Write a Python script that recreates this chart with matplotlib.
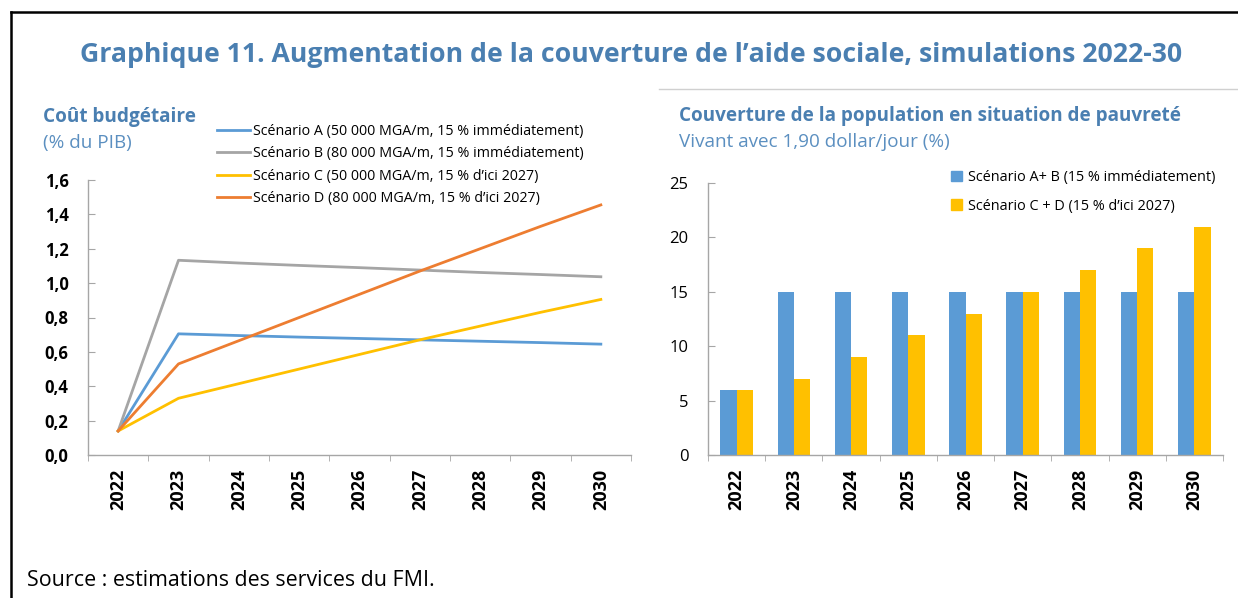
import matplotlib
matplotlib.use("Agg")
import matplotlib.pyplot as plt
from matplotlib.lines import Line2D
from matplotlib.patches import Patch
import numpy as np

plt.rcParams['font.family'] = ['Open Sans', 'DejaVu Sans']

# ---- data ----
years = ["2022", "2023", "2024", "2025", "2026", "2027", "2028", "2029", "2030"]
scen_a = [0.14, 0.705, 0.695, 0.686, 0.678, 0.670, 0.662, 0.654, 0.645]
scen_b = [0.14, 1.133, 1.117, 1.103, 1.090, 1.076, 1.062, 1.050, 1.037]
scen_c = [0.14, 0.330, 0.415, 0.500, 0.585, 0.670, 0.750, 0.830, 0.905]
scen_d = [0.14, 0.530, 0.665, 0.800, 0.935, 1.070, 1.200, 1.330, 1.455]
line_labels = ["Scénario A (50 000 MGA/m, 15 % immédiatement)",
               "Scénario B (80 000 MGA/m, 15 % immédiatement)",
               "Scénario C (50 000 MGA/m, 15 % d\u2019ici 2027)",
               "Scénario D (80 000 MGA/m, 15 % d\u2019ici 2027)"]
left_yticks = [0.0, 0.2, 0.4, 0.6, 0.8, 1.0, 1.2, 1.4, 1.6]
left_yticklabels = ["0,0", "0,2", "0,4", "0,6", "0,8", "1,0", "1,2", "1,4", "1,6"]

cov_ab = [6, 15, 15, 15, 15, 15, 15, 15, 15]
cov_cd = [6, 7, 9, 11, 13, 15, 17, 19, 21]
bar_labels = ["Scénario A+ B (15 % immédiatement)",
              "Scénario C + D (15 % d\u2019ici 2027)"]
right_yticks = [0, 5, 10, 15, 20, 25]

# ---- styles ----
BLUE = "#5B9BD5"
GREY = "#A5A5A5"
YELLOW = "#FFC000"
ORANGE = "#ED7D31"
TITLE = "#4A7FB1"
SUB = "#5B8FC0"
AXC = "#A6A6A6"

W, H = 1238, 598
fig = plt.figure(figsize=(W / 100, H / 100), dpi=100)

def fx(px):
    return px / W

def fy(py):
    return 1 - py / H

# frame lines
fig.add_artist(Line2D([fx(11), 1.0], [fy(12), fy(12)], color="black", lw=1.8))
fig.add_artist(Line2D([fx(11), fx(11)], [fy(12), 0.0], color="black", lw=1.8))
fig.add_artist(Line2D([fx(659), 1.0], [fy(89), fy(89)], color="#D0D0D0", lw=1.0))

# main title
fig.text(fx(631), fy(55), "Graphique 11. Augmentation de la couverture de l\u2019aide sociale, simulations 2022-30",
         ha="center", va="center", fontsize=19.2, fontweight="bold", color=TITLE)

# ---- left chart ----
axL = fig.add_axes([fx(88), fy(455), fx(631 - 88), fy(180) - fy(455)])
x = np.arange(len(years))
for vals, col, lab in zip([scen_a, scen_b, scen_c, scen_d], [BLUE, GREY, YELLOW, ORANGE], line_labels):
    axL.plot(x, vals, color=col, lw=2.0, label=lab)
axL.set_xlim(-0.5, len(years) - 0.5)
axL.set_ylim(0, 1.6)
axL.set_yticks(left_yticks)
axL.set_yticklabels(left_yticklabels, fontweight="bold", fontsize=12)
axL.set_xticks(x)
axL.set_xticklabels(years, rotation=90, fontweight="bold", fontsize=13)
axL.set_xticks(np.arange(-0.5, len(years)), minor=True)
axL.tick_params(axis="x", which="major", length=0, pad=10)
axL.tick_params(axis="x", which="minor", length=4, direction="out", color=AXC)
axL.tick_params(axis="y", length=5, direction="in", color=AXC, pad=14)
for s in ["top", "right"]:
    axL.spines[s].set_visible(False)
for s in ["left", "bottom"]:
    axL.spines[s].set_color(AXC)
    axL.spines[s].set_linewidth(1.0)

fig.text(fx(43), fy(117), "Coût budgétaire", ha="left", va="center",
         fontsize=13.7, fontweight="bold", color=TITLE)
fig.text(fx(43), fy(143), "(% du PIB)", ha="left", va="center",
         fontsize=13.6, color=SUB)

fig.legend(handles=[Line2D([], [], color=c, lw=2.0) for c in [BLUE, GREY, YELLOW, ORANGE]],
           labels=line_labels, loc="upper left", bbox_to_anchor=(fx(217), fy(124)),
           frameon=False, fontsize=10.3, handlelength=2.3, handletextpad=0.25,
           labelspacing=0.52, borderpad=0, borderaxespad=0)

# ---- right chart ----
axR = fig.add_axes([fx(708), fy(455), fx(1223 - 708), fy(183) - fy(455)])
bw = 0.285
axR.bar(x - bw / 2, cov_ab, width=bw, color=BLUE)
axR.bar(x + bw / 2, cov_cd, width=bw, color=YELLOW)
axR.set_xlim(-0.5, len(years) - 0.5)
axR.set_ylim(0, 25)
axR.set_yticks(right_yticks)
axR.set_yticklabels([str(v) for v in right_yticks], fontsize=12)
axR.set_xticks(x)
axR.set_xticklabels(years, rotation=90, fontweight="bold", fontsize=13)
axR.set_xticks(np.arange(-0.5, len(years)), minor=True)
axR.tick_params(axis="x", which="major", length=0, pad=10)
axR.tick_params(axis="x", which="minor", length=4, direction="out", color=AXC)
axR.tick_params(axis="y", length=5, direction="in", color=AXC, pad=14)
for s in ["top", "right"]:
    axR.spines[s].set_visible(False)
for s in ["left", "bottom"]:
    axR.spines[s].set_color(AXC)
    axR.spines[s].set_linewidth(1.0)

fig.text(fx(679), fy(116), "Couverture de la population en situation de pauvreté", ha="left",
         va="center", fontsize=13.6, fontweight="bold", color=TITLE)
fig.text(fx(679), fy(142), "Vivant avec 1,90 dollar/jour (%)", ha="left", va="center",
         fontsize=13.6, color=SUB)

fig.legend(handles=[Patch(color=BLUE), Patch(color=YELLOW)], labels=bar_labels,
           loc="upper left", bbox_to_anchor=(fx(951), fy(170)), frameon=False,
           fontsize=10.4, handlelength=0.75, handleheight=0.75, handletextpad=0.4,
           labelspacing=0.95, borderpad=0, borderaxespad=0)

fig.text(fx(27), fy(580), "Source : estimations des services du FMI.", ha="left", va="center",
         fontsize=15.4, color="black")

fig.savefig("out.png", dpi=100)
